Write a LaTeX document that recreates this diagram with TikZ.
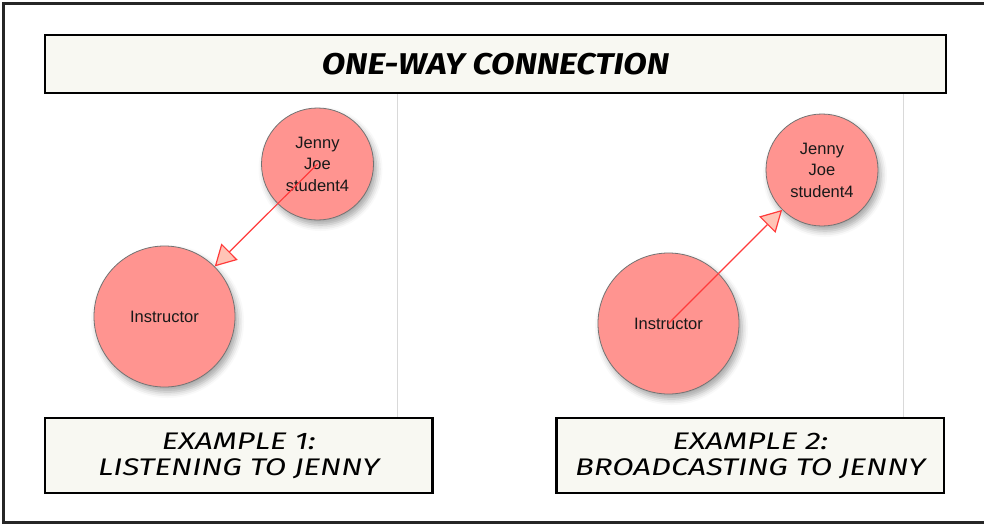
\documentclass[tikz,border=0pt]{standalone}
\usepackage{fontspec}
\setmainfont{Liberation Sans}
\newfontfamily\titlefont[FakeStretch=1.14]{Fira Sans}
\newfontfamily\captionfont[FakeStretch=1.3]{Fira Sans}
\usetikzlibrary{arrows.meta,shadows.blur}

\definecolor{nodepink}{HTML}{FF9490}
\definecolor{edgered}{HTML}{FF3B3B}
\definecolor{tipfill}{HTML}{FFC4B6}
\definecolor{bannercream}{HTML}{F8F8F2}

\begin{document}
\begin{tikzpicture}[x=1pt,y=-1pt,
  outerframe/.style={draw=black!85,line width=2.6pt},
  banner/.style={draw=black, line width=2.6pt, fill=bannercream, inner sep=0pt, align=center},
  titletext/.style={font=\titlefont\bfseries\itshape\fontsize{30}{36}\selectfont},
  captiontext/.style={font=\captionfont\itshape\fontsize{24}{26}\selectfont},
  person/.style={circle, draw=gray!90!black, line width=0.8pt, fill=nodepink,
    inner sep=0pt, align=center, text=black!90,
    font=\fontsize{16.5}{21.5}\selectfont,
    blur shadow={shadow xshift=3pt, shadow yshift=-5pt, shadow blur radius=6pt, shadow opacity=35}},
  smallperson/.style={person, minimum size=112pt},
  bigperson/.style={person, minimum size=141pt},
  link/.style={draw=edgered, line width=1.2pt, -{Triangle[length=21pt,width=23pt,fill=tipfill]}},
  divider/.style={draw=gray!30, line width=1pt}
]
\useasboundingbox (0,0) rectangle (984,525);
\clip (0,0) rectangle (984,525);

% outer comic frame (its right side runs off the page)
\draw[outerframe] (3.5,3.5) rectangle (1000,522.5);

% edges of the two screenshot panels
\draw[divider] (397.5,93) -- (397.5,417);
\draw[divider] (903.5,93) -- (903.5,418);

% title banner
\node[banner, titletext, minimum width=901pt, minimum height=58pt] (title) at (495.5,64) {ONE-WAY CONNECTION};

% example 1: instructor listening to Jenny
\node[smallperson] (jennyA) at (317.5,164) {Jenny\\Joe\\student4};
\node[bigperson] (instrA) at (164.5,316.5) {Instructor};
\draw[link] (jennyA.center) -- (instrA);

% example 2: instructor broadcasting to Jenny
\node[smallperson] (jennyB) at (822,170) {Jenny\\Joe\\student4};
\node[bigperson] (instrB) at (668.5,323.5) {Instructor};
\draw[link] (instrB.center) -- (jennyB);

% captions
\node[banner, captiontext, minimum width=387.5pt, minimum height=75pt] (capA) at (238.8,455.5) {EXAMPLE 1:\\LISTENING TO JENNY};
\node[banner, captiontext, minimum width=387.5pt, minimum height=75pt] (capB) at (750.3,455.5) {EXAMPLE 2:\\BROADCASTING TO JENNY};
\end{tikzpicture}
\end{document}
